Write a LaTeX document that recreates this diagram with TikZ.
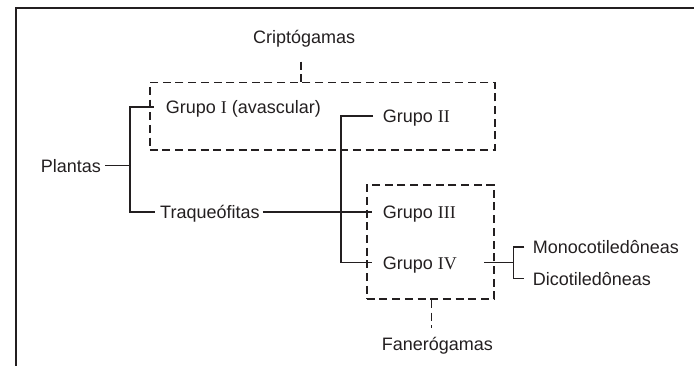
\documentclass[tikz,border=0pt]{standalone}
\usepackage{fontspec}
\setmainfont{Liberation Sans}
\newfontfamily\romfont{Liberation Serif}
\newcommand{\rn}[1]{{\romfont #1}}
\definecolor{ink}{HTML}{231F20}
\begin{document}
\begin{tikzpicture}[x=1pt,y=-1pt,
  lbl/.style={inner sep=0pt, anchor=west, text height=13pt, text depth=0pt, text=ink, font=\fontsize{18}{20}\selectfont},
  conn/.style={line width=1.6pt, draw=ink},
  grp/.style={line width=1.5pt, draw=ink, dash pattern=on 8pt off 4.7pt},
  gbox/.style={grp, inner sep=0pt, anchor=north west},
  frame/.style={line width=2.2pt, draw=ink}]
\useasboundingbox (0,0) rectangle (694,365);
% frame
\coordinate (fbl) at (15.7,366);
\coordinate (ftl) at (15.7,8.3);
\coordinate (ftr) at (695,8.3);
\draw[frame] (fbl) -- (ftl) -- (ftr);
% labels
\node[lbl] (crip) at (253,36.8) {Criptógamas};
\node[lbl] (plantas) at (40.7,165.5) {Plantas};
\node[lbl] (g1) at (165.7,106.7) {Grupo \rn{I} (avascular)};
\node[lbl] (traq) at (160,212) {Traqueófitas};
\node[lbl] (g2) at (382.7,116) {Grupo \rn{II}};
\node[lbl] (g3) at (382.7,212) {Grupo \rn{III}};
\node[lbl] (g4) at (382.7,262.5) {Grupo \rn{IV}};
\node[lbl] (mono) at (532.7,246.8) {Monocotiledôneas};
\node[lbl] (dico) at (532.7,278.5) {Dicotiledôneas};
\node[lbl] (fan) at (381.7,343.5) {Fanerógamas};
% group boxes
\node[gbox, draw, minimum width=345pt, minimum height=67.6pt] (box1) at (149,81.7) {};
\node[gbox, draw, minimum width=127.3pt, minimum height=114.3pt] (box2) at (366,184) {};
% stubs
\coordinate (cs) at (301,61.7);
\draw[grp] (cs) -- (cs |- box1.north);
\coordinate (fs) at (431.7,328.3);
\draw[grp] (fs |- box2.south) -- (fs);
% tree
\coordinate (tx) at (130,0);
\draw[conn] ([xshift=4pt]plantas.east) -- (tx |- plantas.east);
\draw[conn] ([xshift=-12pt]g1.west) -- (tx |- g1.west) -- (tx |- traq.west) -- ([xshift=-5pt]traq.west);
\draw[conn] ([xshift=3pt]traq.east) -- ([xshift=-10.7pt]g3.west);
\coordinate (tv) at (340.7,0);
\draw[conn] ([xshift=-9.7pt]g2.west) -- (tv |- g2.west) -- (tv |- g4.west) -- ([xshift=-10.7pt]g4.west);
\coordinate (g4r) at (484,262.5);
\coordinate (sv) at (513.3,0);
\draw[conn] (g4r) -- (sv |- g4r);
\draw[conn] ([xshift=-8.4pt]mono.west) -- (sv |- mono.west) -- (sv |- dico.west) -- ([xshift=-8.4pt]dico.west);
\end{tikzpicture}
\end{document}
